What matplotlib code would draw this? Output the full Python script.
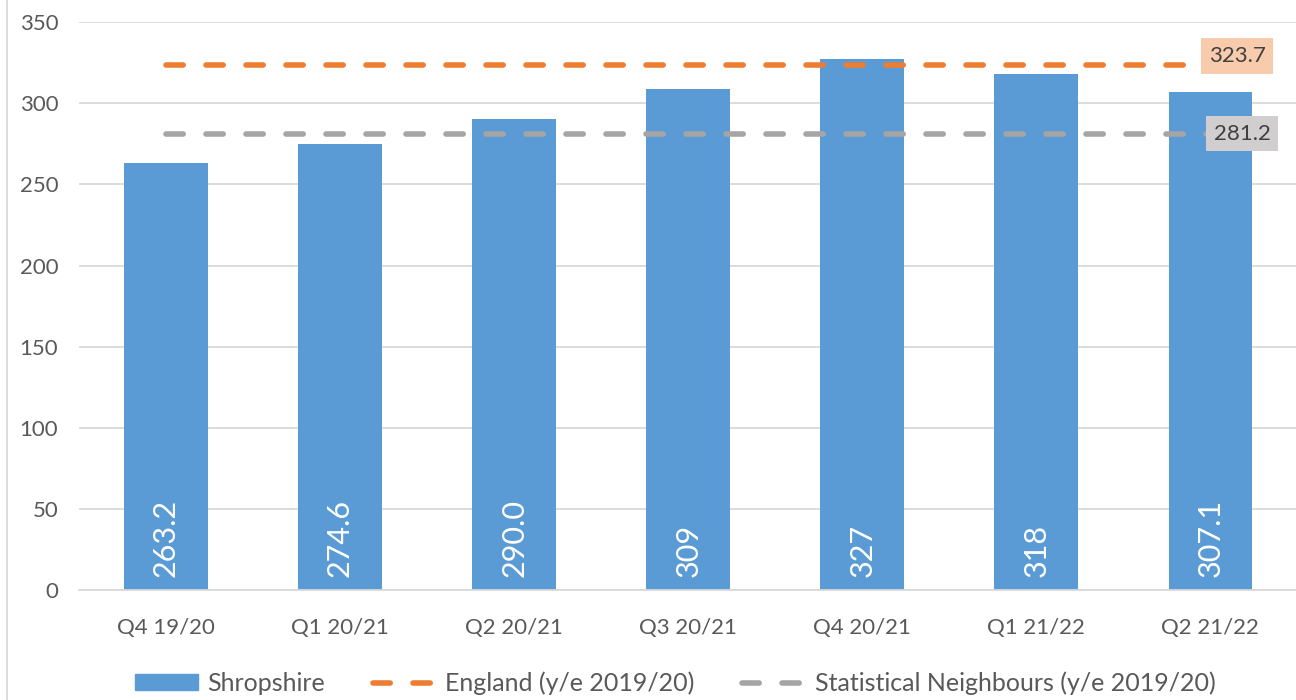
import matplotlib.pyplot as plt
import matplotlib.lines as mlines
import matplotlib.patches as mpatches

plt.rcParams['font.family'] = ['Lato', 'DejaVu Sans']

quarters = ['Q4 19/20', 'Q1 20/21', 'Q2 20/21', 'Q3 20/21', 'Q4 20/21', 'Q1 21/22', 'Q2 21/22']
shropshire = [263.2, 274.6, 290.0, 309, 327, 318, 307.1]
bar_labels = ['263.2', '274.6', '290.0', '309', '327', '318', '307.1']
england = 323.7
stat_neigh = 281.2

blue = '#5B9BD5'
orange = '#ED7D31'
grey = '#A5A5A5'
dash_pat = (3.1, 4.1)

fig = plt.figure(figsize=(12.96, 7.0), dpi=100)
ax = fig.add_axes([0.061, 0.157, 0.94, 0.8115])

x = list(range(len(quarters)))
ax.bar(x, shropshire, width=0.48, color=blue, zorder=2)

# reference lines across the categories
ax.plot([x[0], x[-1]], [england] * 2, color=orange, lw=4, dashes=dash_pat,
        dash_capstyle='round', zorder=3)
ax.plot([x[0], x[-1]], [stat_neigh] * 2, color=grey, lw=4, dashes=dash_pat,
        dash_capstyle='round', zorder=3)

# value labels inside the bars
for xi, lab in zip(x, bar_labels):
    ax.text(xi, 8, lab, rotation=90, ha='center', va='bottom', color='white',
            fontsize=22, zorder=4)

# end labels for the lines
ax.text(x[-1] + 0.154, england + 5.5, '%.1f' % england, ha='center', va='center',
        fontsize=16, color='#404040', zorder=5,
        bbox=dict(boxstyle='square,pad=0.35', fc='#F8CBAD', ec='none'))
ax.text(x[-1] + 0.183, stat_neigh, '%.1f' % stat_neigh, ha='center', va='center',
        fontsize=16, color='#404040', zorder=5,
        bbox=dict(boxstyle='square,pad=0.35', fc='#D0CECE', ec='none'))

ax.set_xlim(-0.5, 6.5)
ax.set_ylim(0, 350)
ax.set_yticks(range(0, 351, 50))
ax.set_xticks(x)
ax.set_xticklabels(quarters)
ax.tick_params(axis='both', length=0, labelsize=16, colors='#595959')
ax.tick_params(axis='x', pad=20)
ax.tick_params(axis='y', pad=15)
ax.yaxis.grid(True, color='#D9D9D9', lw=1.3, zorder=0)
ax.set_axisbelow(True)
for s in ['top', 'right', 'left']:
    ax.spines[s].set_visible(False)
ax.spines['bottom'].set_color('#D9D9D9')
ax.spines['bottom'].set_linewidth(1.3)

# outer chart border on the left
fig.add_artist(mlines.Line2D([0.0055, 0.0055], [0, 1], color='#D9D9D9', lw=1.3,
                             transform=fig.transFigure))

h_shrop = mpatches.Patch(color=blue, label='Shropshire')
h_eng = mlines.Line2D([], [], color=orange, lw=4, dashes=dash_pat,
                      dash_capstyle='round', label='England (y/e 2019/20)')
h_sn = mlines.Line2D([], [], color=grey, lw=4, dashes=dash_pat,
                     dash_capstyle='round', label='Statistical Neighbours (y/e 2019/20)')
leg = fig.legend(handles=[h_shrop, h_eng, h_sn], loc='center', ncol=3,
                 bbox_to_anchor=(0.521, 0.024), frameon=False, fontsize=18,
                 handlelength=2.5, handleheight=0.6, columnspacing=1.9,
                 handletextpad=0.4)
for t in leg.get_texts():
    t.set_color('#595959')

fig.savefig('out.png', dpi=100)
